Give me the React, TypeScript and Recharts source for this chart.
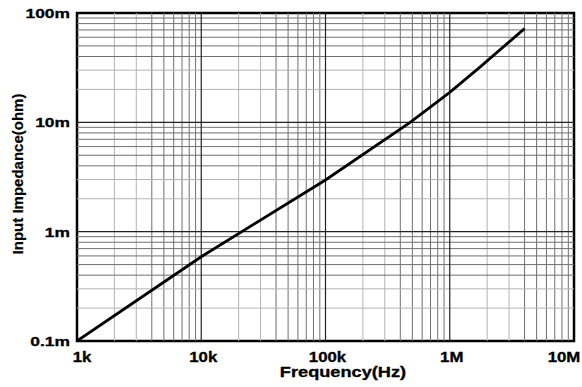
import React from "react";
import {
  LineChart,
  Line,
  XAxis,
  YAxis,
  ReferenceLine,
  ReferenceArea,
  Label,
} from "recharts";

const frequencies = [1e3, 1e4, 1e5, 4.8e5, 1e6, 1.75e6, 4e6];
const impedances = [1e-4, 5.9e-4, 2.97e-3, 1e-2, 1.88e-2, 3.2e-2, 7.2e-2];

const xTicks = [1e3, 1e4, 1e5, 1e6, 1e7];
const xTickLabels = ["1k", "10k", "100k", "1M", "10M"];
const yTicks = [1e-4, 1e-3, 1e-2, 1e-1];
const yTickLabels = ["0.1m", "1m", "10m", "100m"];

const data = frequencies.map((f, i) => ({ f, z: impedances[i] }));

const minorMults = [2, 3, 4, 5, 6, 7, 8, 9];
const xMinor: number[] = [];
xTicks.slice(0, -1).forEach((d) => minorMults.forEach((m) => xMinor.push(d * m)));
const yMinor: number[] = [];
yTicks.slice(0, -1).forEach((d) => minorMults.forEach((m) => yMinor.push(d * m)));

const FONT = "'Liberation Sans', Arial, Helvetica, sans-serif";

const minorColor = (v: number) => {
  const m = Math.round(v / Math.pow(10, Math.floor(Math.log10(v) + 1e-9)));
  return m <= 3 ? "#b4b4b4" : "#707070";
};

const XTick = (props: any) => {
  const { x, payload, index } = props;
  const i = xTicks.indexOf(payload.value);
  const dx = i === 0 ? 5 : i === xTicks.length - 1 ? -10 : 2;
  return (
    <text
      transform={`translate(${x + dx},362) scale(1.2,1)`}
      textAnchor="middle"
      fontFamily={FONT}
      fontWeight="bold"
      fontSize={14}
      fill="#000"
      stroke="#000"
      strokeWidth={0.3}
    >
      {xTickLabels[i >= 0 ? i : index]}
    </text>
  );
};

const YTick = (props: any) => {
  const { y, payload, index } = props;
  const i = yTicks.indexOf(payload.value);
  return (
    <text
      transform={`translate(70,${y + 5}) scale(1.34,1)`}
      textAnchor="end"
      fontFamily={FONT}
      fontWeight="bold"
      fontSize={13}
      fill="#000"
      stroke="#000"
      strokeWidth={0.3}
    >
      {yTickLabels[i >= 0 ? i : index]}
    </text>
  );
};

export default function App() {
  return (
    <div style={{ position: "absolute", left: 0, top: 0, background: "#fff" }}>
      <LineChart
        width={582}
        height={387}
        data={data}
        margin={{ top: 13, right: 8, bottom: 0, left: 0 }}
      >
        <XAxis
          dataKey="f"
          type="number"
          scale="log"
          domain={[1e3, 1e7]}
          allowDataOverflow
          ticks={xTicks}
          tick={<XTick />}
          axisLine={false}
          tickLine={false}
          height={46}
          interval={0}
        >
          <Label
            content={() => (
              <text
                transform="translate(343,377) scale(1.3,1)"
                textAnchor="middle"
                fontFamily={FONT}
                fontWeight="bold"
                fontSize={14}
                fill="#000"
                stroke="#000"
                strokeWidth={0.3}
              >
                Frequency(Hz)
              </text>
            )}
          />
        </XAxis>
        <YAxis
          dataKey="z"
          type="number"
          scale="log"
          domain={[1e-4, 1e-1]}
          allowDataOverflow
          ticks={yTicks}
          tick={<YTick />}
          axisLine={false}
          tickLine={false}
          width={77}
          interval={0}
        >
          <Label
            content={() => (
              <text
                transform="translate(23,174) rotate(-90)"
                textAnchor="middle"
                fontFamily={FONT}
                fontWeight="bold"
                fontSize={15}
                fill="#000"
                stroke="#000"
                strokeWidth={0.2}
              >
                Input Impedance(ohm)
              </text>
            )}
          />
        </YAxis>
        {xMinor.map((v) => (
          <ReferenceLine key={"xm" + v} x={v} stroke={minorColor(v)} strokeWidth={1} />
        ))}
        {yMinor.map((v) => (
          <ReferenceLine key={"ym" + v} y={v} stroke={minorColor(v)} strokeWidth={1} />
        ))}
        {xTicks.slice(1, -1).map((v) => (
          <ReferenceLine key={"xM" + v} x={v} stroke="#222" strokeWidth={1.2} />
        ))}
        {yTicks.slice(1, -1).map((v) => (
          <ReferenceLine key={"yM" + v} y={v} stroke="#222" strokeWidth={1.2} />
        ))}
        <Line
          type="linear"
          dataKey="z"
          stroke="#000"
          strokeWidth={2.8}
          dot={false}
          isAnimationActive={false}
        />
        <ReferenceArea
          x1={1e3}
          x2={1e7}
          y1={1e-4}
          y2={1e-1}
          fill="none"
          fillOpacity={0}
          stroke="#000"
          strokeWidth={2.5}
        />
      </LineChart>
    </div>
  );
}
